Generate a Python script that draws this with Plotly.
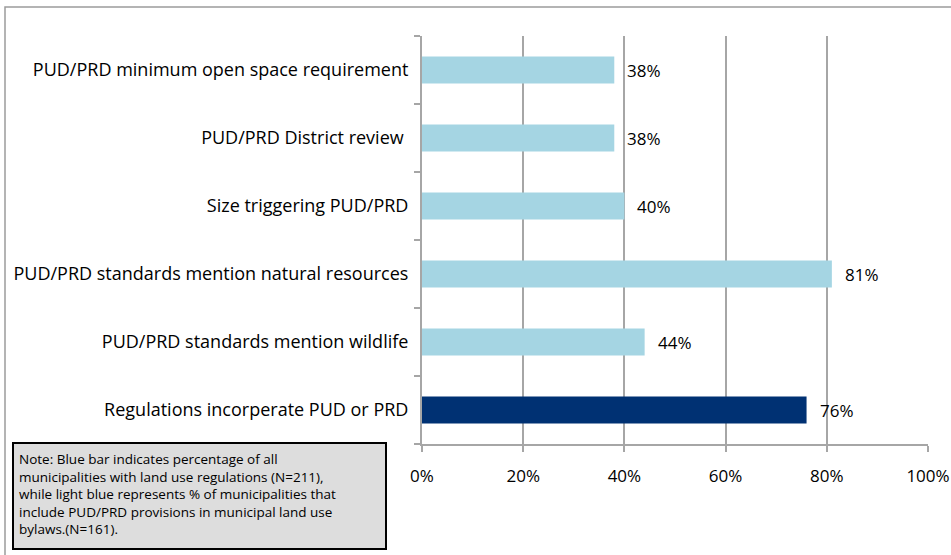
import plotly.graph_objects as go

# bottom-to-top order, as plotly draws horizontal categories
categories = [
    "Regulations incorperate PUD or PRD",
    "PUD/PRD standards mention wildlife",
    "PUD/PRD standards mention natural resources",
    "Size triggering PUD/PRD",
    "PUD/PRD District review ",
    "PUD/PRD minimum open space requirement",
]
values = [0.76, 0.44, 0.81, 0.40, 0.38, 0.38]
value_labels = ["76%", "44%", "81%", "40%", "38%", "38%"]
bar_colors = ["#003173", "#A5D5E3", "#A5D5E3", "#A5D5E3", "#A5D5E3", "#A5D5E3"]
x_ticks = [0, 0.2, 0.4, 0.6, 0.8, 1.0]
x_tick_labels = ["0%", "20%", "40%", "60%", "80%", "100%"]

note_lines = [
    "Note: Blue bar indicates percentage of all",
    "municipalities with land use regulations (N=211),",
    "while light blue represents % of municipalities that",
    "include PUD/PRD provisions in municipal land use",
    "bylaws.(N=161).",
]

W, H = 951, 555
L, R, T, B = 422, 23, 36, 111
FONT = "Open Sans, sans-serif"
GRID = "#A6A6A6"


def px(x):
    return (x - L) / (W - L - R)


def py(y):
    return (H - B - y) / (H - T - B)


fig = go.Figure(
    go.Bar(
        x=values,
        y=categories,
        orientation="h",
        marker=dict(color=bar_colors, line=dict(width=0)),
        hoverinfo="skip",
    )
)

annotations = [
    dict(
        x=v, y=c, text=t, xref="x", yref="y", xanchor="left", xshift=11,
        showarrow=False, font=dict(family=FONT, size=17, color="#000000"),
    )
    for v, c, t in zip(values, categories, value_labels)
]
annotations.append(
    dict(
        x=px(17), y=py(448), xref="paper", yref="paper",
        xanchor="left", yanchor="top", align="left", text="<br>".join(note_lines),
        showarrow=False, font=dict(family=FONT, size=13.5, color="#000000"),
    )
)

shapes = [
    # outer chart frame, right and bottom run off the page
    dict(type="rect", xref="paper", yref="paper", x0=px(5), x1=px(1200), y0=py(800), y1=py(7),
         line=dict(color="#9C9C9C", width=1.5), fillcolor="rgba(0,0,0,0)", layer="below"),
    # note box
    dict(type="rect", xref="paper", yref="paper", x0=px(13), x1=px(386), y0=py(549), y1=py(443),
         line=dict(color="#000000", width=2), fillcolor="#DDDDDD"),
]

fig.update_layout(
    width=W,
    height=H,
    margin=dict(l=L, r=R, t=T, b=B),
    paper_bgcolor="#FFFFFF",
    plot_bgcolor="#FFFFFF",
    bargap=0.6,
    showlegend=False,
    annotations=annotations,
    shapes=shapes,
    font=dict(family=FONT, color="#000000"),
)
fig.update_xaxes(
    range=[0, 1],
    tickvals=x_ticks,
    ticktext=x_tick_labels,
    automargin=False,
    showgrid=True,
    gridcolor=GRID,
    gridwidth=1.5,
    zeroline=False,
    showline=True,
    linecolor=GRID,
    linewidth=2,
    ticks="outside",
    ticklen=6,
    tickwidth=2,
    tickcolor=GRID,
    ticklabelstandoff=10,
    tickfont=dict(family=FONT, size=17, color="#000000"),
    fixedrange=True,
)
fig.update_yaxes(
    categoryorder="array",
    categoryarray=categories,
    automargin=False,
    showgrid=False,
    zeroline=False,
    showline=True,
    linecolor=GRID,
    linewidth=2,
    ticks="outside",
    tickson="boundaries",
    ticklen=6,
    tickwidth=2,
    tickcolor=GRID,
    ticklabelstandoff=8,
    tickfont=dict(family=FONT, size=18, color="#000000"),
    fixedrange=True,
)

fig.write_html(
    "out.html",
    config=dict(displayModeBar=False),
    post_script="document.body.style.margin='0';document.body.style.overflow='hidden';",
)
